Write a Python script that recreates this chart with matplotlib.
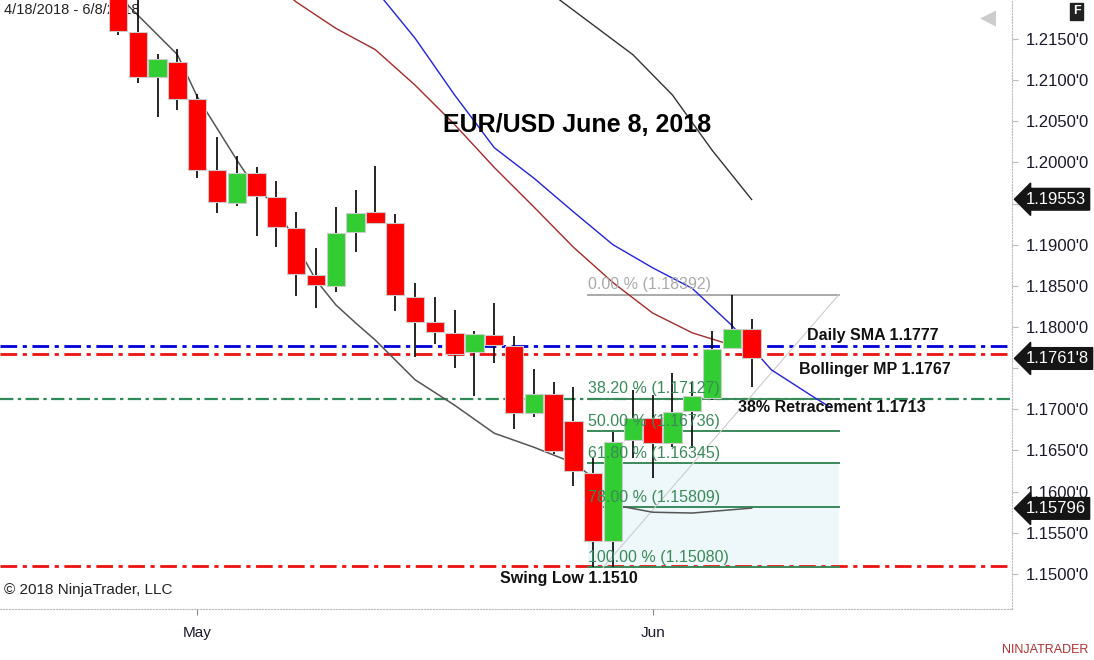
import matplotlib.pyplot as plt
import matplotlib.transforms as mtransforms
import numpy as np

plt.rcParams['font.family'] = ['Liberation Sans', 'DejaVu Sans']

# daily candles, Apr 25 .. Jun 8 2018
opens = [1.2205, 1.2159, 1.2104, 1.2122, 1.2077, 1.1991, 1.1951, 1.1987, 1.1958, 1.1920,
         1.1863, 1.1850, 1.1916, 1.1940, 1.1926, 1.1837, 1.1806, 1.1793, 1.1770, 1.1790,
         1.1777, 1.1696, 1.1719, 1.1686, 1.1623, 1.1540, 1.1663, 1.1690, 1.1659, 1.1698,
         1.1714, 1.1775, 1.1798]
highs = [1.2215, 1.2200, 1.2132, 1.2138, 1.2083, 1.2031, 1.2008, 1.1994, 1.1977, 1.1940,
         1.1896, 1.1946, 1.1967, 1.1996, 1.1937, 1.1854, 1.1837, 1.1821, 1.1795, 1.1829,
         1.1789, 1.1749, 1.1733, 1.1727, 1.1641, 1.1672, 1.1724, 1.1717, 1.1744, 1.1733,
         1.1795, 1.1839, 1.1810]
lows = [1.2155, 1.2097, 1.2055, 1.2064, 1.1981, 1.1939, 1.1947, 1.1911, 1.1897, 1.1838,
        1.1823, 1.1843, 1.1891, 1.1925, 1.1820, 1.1764, 1.1779, 1.1750, 1.1716, 1.1756,
        1.1676, 1.1691, 1.1646, 1.1607, 1.1508, 1.1508, 1.1641, 1.1617, 1.1654, 1.1653,
        1.1711, 1.1773, 1.1727]
closes = [1.2160, 1.2104, 1.2126, 1.2077, 1.1991, 1.1952, 1.1987, 1.1959, 1.1922, 1.1864,
          1.1851, 1.1914, 1.1939, 1.1926, 1.1839, 1.1806, 1.1794, 1.1767, 1.1792, 1.1778,
          1.1696, 1.1719, 1.1649, 1.1625, 1.1540, 1.1660, 1.1690, 1.1659, 1.1697, 1.1716,
          1.1773, 1.1798, 1.1762]

# indicator lines (bar index, value)
sma_idx = [8, 9, 11, 13, 15, 17, 19, 21, 23, 25, 27, 29, 31, 32]
sma_val = [1.2215, 1.2195, 1.2163, 1.2137, 1.2094, 1.2046, 1.1994, 1.1946, 1.1897, 1.1854,
           1.1817, 1.1793, 1.1778, 1.1772]
blue_idx = [13, 15, 17, 19, 21, 23, 25, 27, 29, 31, 33, 35, 36]
blue_val = [1.2210, 1.2151, 1.2082, 1.2018, 1.1981, 1.1940, 1.1900, 1.1872, 1.1847, 1.1802,
            1.1748, 1.1717, 1.1702]
upper_idx = [22, 24, 26, 28, 30, 32]
upper_val = [1.2203, 1.2167, 1.2131, 1.2082, 1.2015, 1.1955]
lower_idx = [0, 2, 3, 4, 6, 7, 8, 9, 10, 11, 12, 13, 15, 17, 19, 21, 23, 24, 25, 27, 29, 31, 32]
lower_val = [1.2203, 1.2155, 1.2131, 1.2080, 1.2003, 1.1967, 1.1948, 1.1900, 1.1857, 1.1827,
             1.1805, 1.1784, 1.1736, 1.1705, 1.1671, 1.1654, 1.1635, 1.1617, 1.1584, 1.1575,
             1.1574, 1.1578, 1.1580]

fib_pct = ['0.00', '38.20', '50.00', '61.80', '78.00', '100.00']
fib_val = [1.18392, 1.17127, 1.16736, 1.16345, 1.15809, 1.15080]

sma_level = 1.1777
bb_level = 1.1767
ret_level = 1.1713
swing_level = 1.1510

x_labels = ['May', 'Jun']
x_label_idx = [4, 27]

fig = plt.figure(figsize=(10.94, 6.6), dpi=100)
ax = fig.add_axes([0, 1 - 609 / 660, 1012 / 1094, 609 / 660])
ax.set_xlim(-5.96, 45.15)
ax.set_ylim(1.14574, 1.21974)

dashdot = (0, (6, 2, 1.5, 2))
ax.axhline(sma_level, color='#0000dd', lw=2, ls=dashdot, zorder=1)
ax.axhline(bb_level, color='#ee1111', lw=2, ls=dashdot, zorder=1)
ax.axhline(ret_level, color='#2e8b57', lw=1.6, ls=dashdot, zorder=1)
ax.axhline(swing_level, color='#ee1111', lw=2, ls=dashdot, zorder=1)

# fib retracement
fx0, fx1 = 23.75, 36.4
ax.fill_between([fx0, fx1], fib_val[5], fib_val[3], color='#eef7f9', lw=0, zorder=0)
for i, (p, v) in enumerate(zip(fib_pct, fib_val)):
    c = '#aaaaaa' if i == 0 else '#3a8a5a'
    ax.plot([fx0, fx1], [v, v], color=c, lw=1.4, zorder=1)
    ax.text(fx0, v + 0.0003, f'{p} % ({v:.5f})', color=c, fontsize=11.5, va='bottom', ha='left', zorder=5)
ax.plot([24.5, fx1], [fib_val[5], fib_val[0]], color='#cccccc', lw=0.8, zorder=1)

# indicator lines
ax.plot(sma_idx, sma_val, color='#a52a2a', lw=1, zorder=2)
ax.plot(blue_idx, blue_val, color='#2222dd', lw=1, zorder=2)
ax.plot(upper_idx, upper_val, color='#333333', lw=1, zorder=2)
ax.plot(lower_idx, lower_val, color='#555555', lw=1.1, zorder=2)

# candles
idx = np.arange(len(opens))
o, h, l, c = map(np.array, (opens, highs, lows, closes))
up = c >= o
ax.vlines(idx, l, h, color='black', lw=1.2, zorder=3)
ax.bar(idx, np.abs(c - o), bottom=np.minimum(o, c), width=0.93,
       color=np.where(up, '#32cd32', '#ff0000'), edgecolor='#cccccc', lw=0.8, zorder=4)

# annotations
kw = dict(fontsize=11.5, fontweight='bold', color='#111111', zorder=6)
ax.text(34.8, sma_level + 0.0004, 'Daily SMA 1.1777', va='bottom', **kw)
ax.text(34.4, bb_level - 0.0009, 'Bollinger MP 1.1767', va='top', **kw)
ax.text(31.3, ret_level - 0.0002, '38% Retracement 1.1713', va='top', **kw)
ax.text(19.3, swing_level - 0.0007, 'Swing Low 1.1510', va='top', **kw)
ax.text(23.2, 1.2045, 'EUR/USD June 8, 2018', fontsize=18, fontweight='bold', ha='center', va='center')
ax.text(0.004, 0.995, '4/18/2018 - 6/8/2018', transform=ax.transAxes, fontsize=10.5, va='top', color='#222222')
ax.text(0.004, 0.032, '© 2018 NinjaTrader, LLC', transform=ax.transAxes, fontsize=11, va='center', color='#222222')

# axes styling
for s in ('top', 'left'):
    ax.spines[s].set_visible(False)
for s in ('right', 'bottom'):
    ax.spines[s].set_color('#bbbbbb')
    ax.spines[s].set_linestyle(':')
ax.yaxis.tick_right()
ticks = np.arange(1.1500, 1.2151, 0.005)
ax.set_yticks(ticks)
# labels at 1.1950 and 1.1750 sit under the price markers
ax.set_yticklabels(['' if abs(t - 1.195) < 1e-6 or abs(t - 1.175) < 1e-6 else f"{t:.4f}'0" for t in ticks],
                   fontsize=12, color='#1a1a2a')
ax.tick_params(axis='y', length=4, color='#bbbbbb', pad=6)
ax.set_xticks(x_label_idx)
ax.set_xticklabels(x_labels, fontsize=11, color='#1a1a2a')
ax.tick_params(axis='x', length=4, color='#888888', pad=8)

# price markers on the right
tr = mtransforms.blended_transform_factory(ax.transAxes, ax.transData)
for v, txt in [(1.19553, '1.19553'), (1.17618, "1.1761'8"), (1.15796, '1.15796')]:
    ax.text(1.014, v, txt, transform=tr, fontsize=12, color='white', va='center', ha='left',
            bbox=dict(boxstyle='larrow,pad=0.2', fc='#151515', ec='#151515'), zorder=7, clip_on=False)

fig.text(0.984, 0.983, 'F', fontsize=9, color='white', fontweight='bold', ha='center', va='center',
         bbox=dict(boxstyle='square,pad=0.2', fc='#222222', ec='#222222'))
fig.text(0.903, 0.972, '◀', fontsize=15, color='#cccccc', ha='center', va='center')
fig.text(0.995, 0.015, 'NINJATRADER', fontsize=9, color='#b03030', ha='right', va='center')

fig.savefig('out.png', dpi=100)
